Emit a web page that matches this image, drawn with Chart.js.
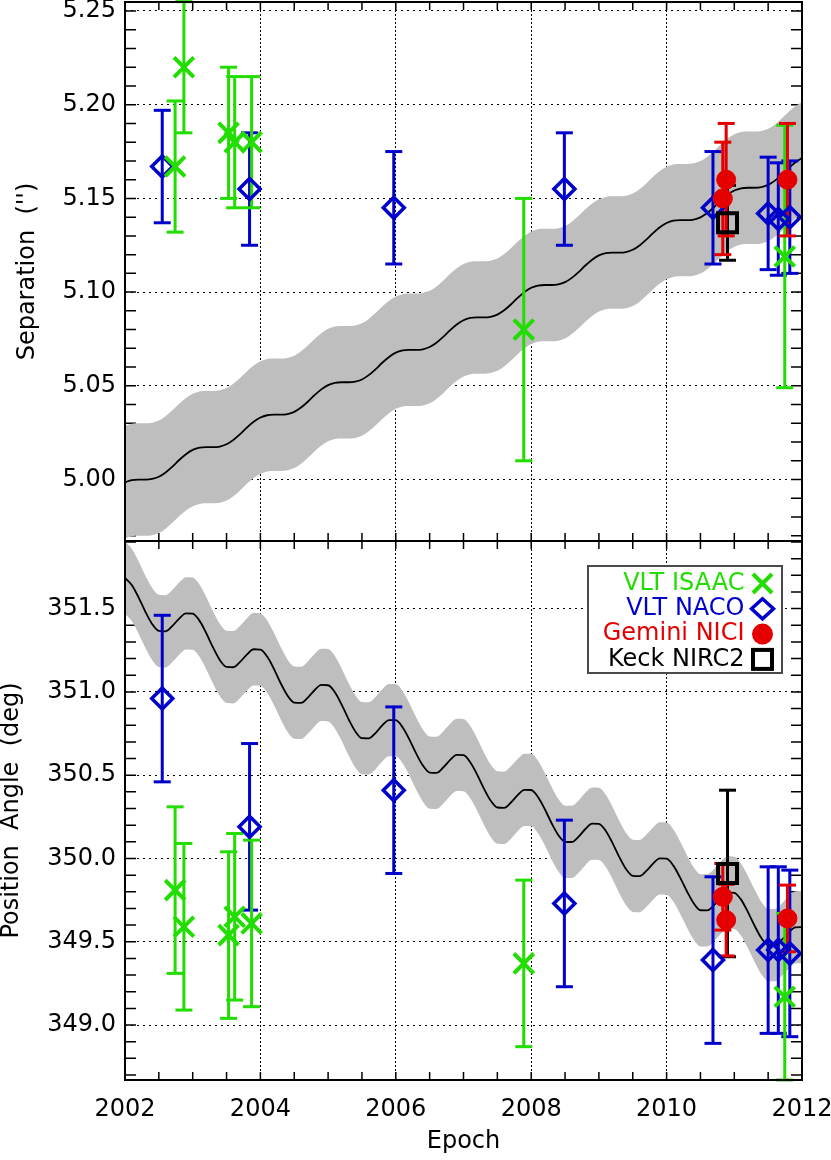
<!DOCTYPE html>
<html>
<head>
<meta charset="utf-8">
<script src="https://cdn.jsdelivr.net/npm/chart.js@4.4.1/dist/chart.umd.min.js"></script>
<style>
  body { margin: 0; background: #fff; }
  #wrap { position: relative; width: 831px; height: 1160px; }
  canvas { position: absolute; left: 0; }
</style>
</head>
<body>
<div id="wrap">
  <canvas id="sepChart" width="831" height="543" style="top:0"></canvas>
  <canvas id="paChart" width="831" height="620" style="top:540px"></canvas>
</div>
<script>
/* ==== model track (0.1 yr steps) ==== */
const modelEpoch = [
  2002.0, 2002.1, 2002.2, 2002.3, 2002.4, 2002.5, 2002.6, 2002.7, 2002.8, 2002.9,
  2003.0, 2003.1, 2003.2, 2003.3, 2003.4, 2003.5, 2003.6, 2003.7, 2003.8, 2003.9,
  2004.0, 2004.1, 2004.2, 2004.3, 2004.4, 2004.5, 2004.6, 2004.7, 2004.8, 2004.9,
  2005.0, 2005.1, 2005.2, 2005.3, 2005.4, 2005.5, 2005.6, 2005.7, 2005.8, 2005.9,
  2006.0, 2006.1, 2006.2, 2006.3, 2006.4, 2006.5, 2006.6, 2006.7, 2006.8, 2006.9,
  2007.0, 2007.1, 2007.2, 2007.3, 2007.4, 2007.5, 2007.6, 2007.7, 2007.8, 2007.9,
  2008.0, 2008.1, 2008.2, 2008.3, 2008.4, 2008.5, 2008.6, 2008.7, 2008.8, 2008.9,
  2009.0, 2009.1, 2009.2, 2009.3, 2009.4, 2009.5, 2009.6, 2009.7, 2009.8, 2009.9,
  2010.0, 2010.1, 2010.2, 2010.3, 2010.4, 2010.5, 2010.6, 2010.7, 2010.8, 2010.9,
  2011.0, 2011.1, 2011.2, 2011.3, 2011.4, 2011.5, 2011.6, 2011.7, 2011.8, 2011.9,
  2012.0
];
const sepModel = [
  4.9985, 4.9997, 5.0000, 5.0000, 5.0003, 5.0015, 5.0038, 5.0069, 5.0104, 5.0135,
  5.0158, 5.0170, 5.0173, 5.0173, 5.0176, 5.0188, 5.0211, 5.0242, 5.0277, 5.0308,
  5.0331, 5.0343, 5.0346, 5.0346, 5.0349, 5.0361, 5.0384, 5.0415, 5.0450, 5.0481,
  5.0504, 5.0516, 5.0519, 5.0519, 5.0522, 5.0534, 5.0557, 5.0588, 5.0623, 5.0654,
  5.0677, 5.0689, 5.0692, 5.0692, 5.0695, 5.0707, 5.0730, 5.0761, 5.0796, 5.0827,
  5.0850, 5.0862, 5.0865, 5.0865, 5.0868, 5.0880, 5.0903, 5.0934, 5.0969, 5.1000,
  5.1023, 5.1035, 5.1038, 5.1038, 5.1041, 5.1053, 5.1076, 5.1107, 5.1142, 5.1173,
  5.1196, 5.1208, 5.1211, 5.1211, 5.1214, 5.1226, 5.1249, 5.1280, 5.1315, 5.1346,
  5.1369, 5.1381, 5.1384, 5.1384, 5.1387, 5.1399, 5.1422, 5.1453, 5.1488, 5.1519,
  5.1542, 5.1554, 5.1557, 5.1557, 5.1560, 5.1572, 5.1595, 5.1626, 5.1661, 5.1692,
  5.1715
];
const sepUpper = [
  5.0285, 5.0297, 5.0300, 5.0300, 5.0303, 5.0315, 5.0338, 5.0369, 5.0404, 5.0435,
  5.0458, 5.0470, 5.0473, 5.0473, 5.0476, 5.0488, 5.0511, 5.0542, 5.0577, 5.0608,
  5.0631, 5.0643, 5.0646, 5.0646, 5.0649, 5.0661, 5.0684, 5.0715, 5.0750, 5.0781,
  5.0804, 5.0816, 5.0819, 5.0819, 5.0822, 5.0834, 5.0857, 5.0888, 5.0923, 5.0954,
  5.0977, 5.0989, 5.0992, 5.0992, 5.0995, 5.1007, 5.1030, 5.1061, 5.1096, 5.1127,
  5.1150, 5.1162, 5.1165, 5.1165, 5.1168, 5.1180, 5.1203, 5.1234, 5.1269, 5.1300,
  5.1323, 5.1335, 5.1338, 5.1338, 5.1341, 5.1353, 5.1376, 5.1407, 5.1442, 5.1473,
  5.1496, 5.1508, 5.1511, 5.1511, 5.1514, 5.1526, 5.1549, 5.1580, 5.1615, 5.1646,
  5.1669, 5.1681, 5.1684, 5.1684, 5.1687, 5.1699, 5.1722, 5.1753, 5.1788, 5.1819,
  5.1842, 5.1854, 5.1857, 5.1857, 5.1860, 5.1872, 5.1895, 5.1926, 5.1961, 5.1992,
  5.2015
];
const sepLower = [
  4.9685, 4.9697, 4.9700, 4.9700, 4.9703, 4.9715, 4.9738, 4.9769, 4.9804, 4.9835,
  4.9858, 4.9870, 4.9873, 4.9873, 4.9876, 4.9888, 4.9911, 4.9942, 4.9977, 5.0008,
  5.0031, 5.0043, 5.0046, 5.0046, 5.0049, 5.0061, 5.0084, 5.0115, 5.0150, 5.0181,
  5.0204, 5.0216, 5.0219, 5.0219, 5.0222, 5.0234, 5.0257, 5.0288, 5.0323, 5.0354,
  5.0377, 5.0389, 5.0392, 5.0392, 5.0395, 5.0407, 5.0430, 5.0461, 5.0496, 5.0527,
  5.0550, 5.0562, 5.0565, 5.0565, 5.0568, 5.0580, 5.0603, 5.0634, 5.0669, 5.0700,
  5.0723, 5.0735, 5.0738, 5.0738, 5.0741, 5.0753, 5.0776, 5.0807, 5.0842, 5.0873,
  5.0896, 5.0908, 5.0911, 5.0911, 5.0914, 5.0926, 5.0949, 5.0980, 5.1015, 5.1046,
  5.1069, 5.1081, 5.1084, 5.1084, 5.1087, 5.1099, 5.1122, 5.1153, 5.1188, 5.1219,
  5.1242, 5.1254, 5.1257, 5.1257, 5.1260, 5.1272, 5.1295, 5.1326, 5.1361, 5.1392,
  5.1415
];
const paModel = [
  351.684, 351.642, 351.568, 351.482, 351.408, 351.366, 351.364, 351.396, 351.440, 351.472,
  351.470, 351.428, 351.353, 351.267, 351.192, 351.150, 351.148, 351.180, 351.224, 351.256,
  351.254, 351.212, 351.138, 351.052, 350.978, 350.936, 350.934, 350.966, 351.010, 351.042,
  351.040, 350.998, 350.924, 350.838, 350.764, 350.722, 350.721, 350.753, 350.799, 350.831,
  350.830, 350.788, 350.715, 350.631, 350.558, 350.516, 350.514, 350.546, 350.590, 350.622,
  350.620, 350.578, 350.505, 350.421, 350.348, 350.306, 350.304, 350.336, 350.380, 350.412,
  350.411, 350.369, 350.297, 350.213, 350.141, 350.100, 350.099, 350.131, 350.177, 350.209,
  350.208, 350.167, 350.094, 350.010, 349.937, 349.896, 349.894, 349.925, 349.969, 350.000,
  349.999, 349.957, 349.885, 349.803, 349.731, 349.689, 349.688, 349.720, 349.764, 349.796,
  349.794, 349.753, 349.679, 349.596, 349.522, 349.481, 349.479, 349.511, 349.554, 349.586,
  349.588
];
const paUpper = [
  351.901, 351.859, 351.785, 351.699, 351.625, 351.583, 351.581, 351.613, 351.657, 351.689,
  351.687, 351.645, 351.570, 351.484, 351.409, 351.367, 351.365, 351.397, 351.441, 351.473,
  351.471, 351.429, 351.355, 351.269, 351.195, 351.153, 351.151, 351.183, 351.227, 351.259,
  351.257, 351.215, 351.141, 351.055, 350.981, 350.939, 350.938, 350.970, 351.016, 351.048,
  351.047, 351.005, 350.932, 350.848, 350.775, 350.733, 350.731, 350.763, 350.807, 350.839,
  350.837, 350.795, 350.722, 350.638, 350.565, 350.523, 350.521, 350.553, 350.597, 350.629,
  350.628, 350.586, 350.514, 350.430, 350.358, 350.317, 350.316, 350.348, 350.394, 350.426,
  350.425, 350.384, 350.311, 350.227, 350.154, 350.113, 350.111, 350.142, 350.186, 350.217,
  350.216, 350.174, 350.102, 350.020, 349.948, 349.906, 349.905, 349.937, 349.981, 350.013,
  350.011, 349.970, 349.896, 349.813, 349.739, 349.698, 349.696, 349.728, 349.771, 349.803,
  349.805
];
const paLower = [
  351.467, 351.425, 351.351, 351.265, 351.191, 351.149, 351.147, 351.179, 351.223, 351.255,
  351.253, 351.211, 351.136, 351.050, 350.975, 350.933, 350.931, 350.963, 351.007, 351.039,
  351.037, 350.995, 350.921, 350.835, 350.761, 350.719, 350.717, 350.749, 350.793, 350.825,
  350.823, 350.781, 350.707, 350.621, 350.547, 350.505, 350.504, 350.536, 350.582, 350.614,
  350.613, 350.571, 350.498, 350.414, 350.341, 350.299, 350.297, 350.329, 350.373, 350.405,
  350.403, 350.361, 350.288, 350.204, 350.131, 350.089, 350.087, 350.119, 350.163, 350.195,
  350.194, 350.152, 350.080, 349.996, 349.924, 349.883, 349.882, 349.914, 349.960, 349.992,
  349.991, 349.950, 349.877, 349.793, 349.720, 349.679, 349.677, 349.708, 349.752, 349.783,
  349.782, 349.740, 349.668, 349.586, 349.514, 349.472, 349.471, 349.503, 349.547, 349.579,
  349.577, 349.536, 349.462, 349.379, 349.305, 349.264, 349.262, 349.294, 349.337, 349.369,
  349.371
];

/* ==== measurements ==== */
const isaacEpoch  = [2002.74, 2002.87, 2003.53, 2003.62, 2003.87, 2007.89, 2011.745];
const isaacSep    = [5.167, 5.220, 5.185, 5.180, 5.180, 5.080, 5.119];
const isaacSepErr = [0.035, 0.035, 0.035, 0.035, 0.035, 0.070, 0.070];
const isaacPA     = [349.81, 349.59, 349.54, 349.65, 349.61, 349.37, 349.17];
const isaacPAErr  = [0.50, 0.50, 0.50, 0.50, 0.50, 0.50, 0.50];

const nacoEpoch  = [2002.55, 2003.84, 2005.97, 2008.49, 2010.685, 2011.50, 2011.65, 2011.82];
const nacoSep    = [5.167, 5.155, 5.145, 5.155, 5.145, 5.142, 5.139, 5.140];
const nacoSepErr = [0.030, 0.030, 0.030, 0.030, 0.030, 0.030, 0.030, 0.030];
const nacoPA     = [350.96, 350.19, 350.41, 349.73, 349.39, 349.45, 349.45, 349.43];
const nacoPAErr  = [0.50, 0.50, 0.50, 0.50, 0.50, 0.50, 0.50, 0.50];

const niciEpoch  = [2010.83, 2010.88, 2011.785];
const niciSep    = [5.150, 5.160, 5.160];
const niciSepErr = [0.030, 0.030, 0.030];
const niciPA     = [349.77, 349.63, 349.64];
const niciPAErr  = [0.20, 0.215, 0.20];

const nircEpoch  = [2010.90];
const nircSep    = [5.137];
const nircSepErr = [0.020];
const nircPA     = [349.91];
const nircPAErr  = [0.50];

const legendLabels = ["VLT ISAAC", "VLT NACO", "Gemini NICI", "Keck NIRC2"];

/* ==== style ==== */
const GREEN = "#22dd00", BLUE = "#0000cc", RED = "#e40000", BLACK = "#000", BAND = "#bebebe";
const FONT = "'DejaVu Sans', sans-serif";
const legendColors = [GREEN, BLUE, RED, BLACK];
const legendStyles = ["x", "diamond", "circle", "square"];

Chart.defaults.font.family = FONT;
Chart.defaults.font.size = 24;
Chart.defaults.color = "#000";

function ticksEvery(a, b, s) {
  const out = [];
  for (let i = 0; a + i * s <= b + 1e-9; i++) out.push(+(a + i * s).toFixed(4));
  return out;
}

const pts = (t, v) => t.map((x, i) => ({ x, y: v[i] }));
function errPts(t, v, e) {
  const out = [];
  t.forEach((x, i) => out.push({ x, y: v[i] - e[i] }, { x, y: v[i] + e[i] }, { x, y: null }));
  return out;
}

function bandSet(t, v, fill, order) {
  return { type: "line", data: pts(t, v), fill, backgroundColor: BAND, borderColor: "rgba(0,0,0,0)",
    borderWidth: 0, pointRadius: 0, cubicInterpolationMode: "monotone", order };
}
function barSet(t, v, e, color, order) {
  return { type: "scatter", data: errPts(t, v, e), showLine: true, spanGaps: false, borderColor: color,
    borderWidth: 3, pointStyle: "line", pointRadius: 8.5, pointBorderWidth: 3, pointBorderColor: color,
    pointBackgroundColor: color, clip: false, order };
}
function markSet(t, v, style, color, fillColor, radius, bw, order) {
  return { type: "scatter", data: pts(t, v), pointStyle: style, pointRadius: radius, pointBorderWidth: bw,
    pointBorderColor: color, pointBackgroundColor: fillColor, clip: false, order };
}

/* ==== plugins ==== */
const frameTicks = {
  id: "frameTicks",
  beforeDatasetsDraw(chart, args, opts) {
    const { ctx, chartArea: a } = chart;
    const xs = chart.scales.x, ys = chart.scales.y;
    ctx.save();
    ctx.strokeStyle = "#000";
    ctx.lineWidth = 1.5;
    ctx.beginPath();
    ticksEvery(2002, 2012, 0.5).forEach(v => {
      const px = xs.getPixelForValue(v);
      ctx.moveTo(px, a.top); ctx.lineTo(px, a.top + 8);
      ctx.moveTo(px, a.bottom); ctx.lineTo(px, a.bottom - 8);
    });
    opts.yMinor.forEach(v => {
      const py = ys.getPixelForValue(v);
      if (py < a.top || py > a.bottom) return;
      ctx.moveTo(a.left, py); ctx.lineTo(a.left + 11, py);
      ctx.moveTo(a.right, py); ctx.lineTo(a.right - 11, py);
    });
    ctx.stroke();
    ctx.restore();
  },
  afterDraw(chart) {
    const { ctx, chartArea: a } = chart;
    ctx.save();
    ctx.strokeStyle = "#000";
    ctx.lineWidth = 2;
    ctx.strokeRect(a.left, a.top, a.right - a.left, a.bottom - a.top);
    ctx.restore();
  }
};

function drawSymbol(ctx, style, x, y, color) {
  ctx.save();
  ctx.strokeStyle = color; ctx.fillStyle = color;
  ctx.beginPath();
  if (style === "x") {
    ctx.lineWidth = 4;
    ctx.moveTo(x - 9.5, y - 9.5); ctx.lineTo(x + 9.5, y + 9.5);
    ctx.moveTo(x + 9.5, y - 9.5); ctx.lineTo(x - 9.5, y + 9.5);
    ctx.stroke();
  } else if (style === "diamond") {
    ctx.lineWidth = 3.5;
    ctx.moveTo(x - 11, y); ctx.lineTo(x, y - 10); ctx.lineTo(x + 11, y); ctx.lineTo(x, y + 10); ctx.closePath();
    ctx.stroke();
  } else if (style === "circle") {
    ctx.arc(x, y, 10.5, 0, Math.PI * 2);
    ctx.fill();
  } else {
    ctx.lineWidth = 4;
    ctx.strokeRect(x - 9.5, y - 9.5, 19, 19);
  }
  ctx.restore();
}

const legendBox = {
  id: "legendBox",
  afterDatasetsDraw(chart) {
    const { ctx, chartArea: a } = chart;
    const left = a.right - 214, top = a.top + 25, w = 194, h = 107;
    ctx.save();
    ctx.fillStyle = "#fff";
    ctx.fillRect(left, top, w, h);
    ctx.strokeStyle = "#4a4a4a";
    ctx.lineWidth = 2;
    ctx.strokeRect(left, top, w, h);
    ctx.font = "24px " + FONT;
    ctx.textAlign = "right";
    ctx.textBaseline = "middle";
    legendLabels.forEach((lab, i) => {
      const y = top + 17.5 + i * 25.3;
      ctx.fillStyle = legendColors[i];
      ctx.fillText(lab, left + 156.5, y);
      drawSymbol(ctx, legendStyles[i], left + 174.5, y, legendColors[i]);
    });
    ctx.restore();
  }
};

/* ==== panel builder ==== */
function makePanel(id, cfg) {
  const datasets = [
    bandSet(modelEpoch, cfg.upper, "+1", 20),
    bandSet(modelEpoch, cfg.lower, false, 19),
    { type: "line", data: pts(modelEpoch, cfg.model), borderColor: "#000", borderWidth: 1.8, pointRadius: 0,
      fill: false, cubicInterpolationMode: "monotone", order: 18 },
    barSet(nacoEpoch, cfg.naco, cfg.nacoErr, BLUE, 17),
    barSet(isaacEpoch, cfg.isaac, cfg.isaacErr, GREEN, 16),
    barSet(nircEpoch, cfg.nirc, cfg.nircErr, BLACK, 15),
    barSet(niciEpoch, cfg.nici, cfg.niciErr, RED, 14),
    markSet(nacoEpoch, cfg.naco, "rectRot", BLUE, "rgba(0,0,0,0)", 10.5, 3.5, 13),
    markSet(isaacEpoch, cfg.isaac, "crossRot", GREEN, GREEN, 14, 4, 12),
    markSet(niciEpoch, cfg.nici, "circle", RED, RED, 9.5, 1, 11),
    markSet(nircEpoch, cfg.nirc, "rect", BLACK, "rgba(0,0,0,0)", 13.4, 4, 10)
  ];
  return new Chart(document.getElementById(id), {
    type: "scatter",
    data: { datasets },
    plugins: cfg.plugins,
    options: {
      responsive: false,
      animation: false,
      devicePixelRatio: 1,
      events: [],
      layout: { autoPadding: false, padding: { top: cfg.padTop, right: 29, bottom: cfg.padBottom, left: 0 } },
      plugins: { legend: { display: false }, tooltip: { enabled: false }, frameTicks: { yMinor: cfg.yMinor } },
      scales: {
        x: {
          type: "linear", min: 2002, max: 2012,
          ticks: { stepSize: 2, display: cfg.showX, padding: 15, maxRotation: 0, autoSkip: false,
            callback: v => String(v) },
          grid: { color: "#000", lineWidth: 1, drawTicks: false },
          border: { display: false, dash: [2, 2] },
          title: { display: cfg.showX, text: "Epoch", padding: { top: 0, bottom: 6 }, font: { size: 24, lineHeight: 1 } },
          afterFit(s) { s.height = cfg.showX ? 80 : 0; s.paddingLeft = 0; s.paddingRight = 0; }
        },
        y: {
          type: "linear", min: cfg.yMin, max: cfg.yMax,
          ticks: { stepSize: cfg.yStep, includeBounds: false, padding: 9, callback: v => Number(v).toFixed(cfg.decimals) },
          grid: { color: "#000", lineWidth: 1, drawTicks: false },
          border: { display: false, dash: [2, 4] },
          title: { display: true, text: cfg.yTitle, padding: { top: cfg.titlePad, bottom: 0 }, font: { size: 24, lineHeight: 1 } },
          afterFit(s) { s.width = 125; s.paddingTop = 0; s.paddingBottom = 0; }
        }
      }
    }
  });
}

makePanel("sepChart", {
  model: sepModel, upper: sepUpper, lower: sepLower,
  isaac: isaacSep, isaacErr: isaacSepErr, naco: nacoSep, nacoErr: nacoSepErr,
  nici: niciSep, niciErr: niciSepErr, nirc: nircSep, nircErr: nircSepErr,
  yMin: 4.9672, yMax: 5.2548, yStep: 0.05, decimals: 2, yMinor: ticksEvery(4.97, 5.25, 0.01),
  yTitle: "Separation  ('')", titlePad: 16, showX: false, padTop: 2, padBottom: 2,
  plugins: [frameTicks]
});

makePanel("paChart", {
  model: paModel, upper: paUpper, lower: paLower,
  isaac: isaacPA, isaacErr: isaacPAErr, naco: nacoPA, nacoErr: nacoPAErr,
  nici: niciPA, niciErr: niciPAErr, nirc: nircPA, nircErr: nircPAErr,
  yMin: 348.67, yMax: 351.906, yStep: 0.5, decimals: 1, yMinor: ticksEvery(348.7, 351.9, 0.1),
  yTitle: "Position  Angle  (deg)", titlePad: 0, showX: true, padTop: 1, padBottom: 0,
  plugins: [frameTicks, legendBox]
});
</script>
</body>
</html>
